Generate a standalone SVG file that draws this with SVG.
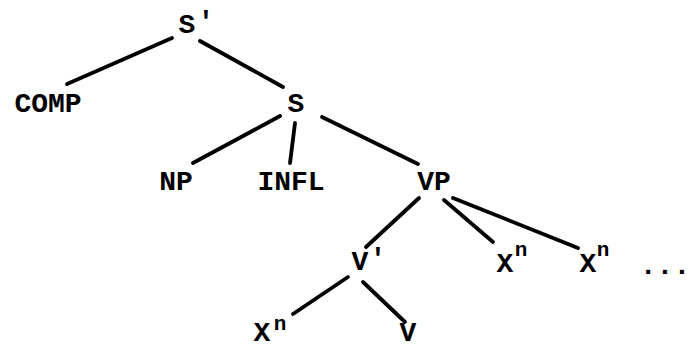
<svg xmlns="http://www.w3.org/2000/svg" width="697" height="349" viewBox="0 0 697 349">
<style>
.t{font-family:"Liberation Mono","DejaVu Sans Mono",monospace;font-size:28px;font-weight:bold;fill:#000;text-anchor:middle}
.s{font-size:21px}
.e{stroke:#000;stroke-width:3.8;stroke-linecap:round;fill:none}
</style>
<rect width="697" height="349" fill="#fff"/>
<g id="connectors" class="e">
<line x1="172" y1="38" x2="67" y2="84"/>
<line x1="200" y1="41" x2="283" y2="87"/>
<line x1="280" y1="116" x2="193" y2="163"/>
<line x1="295" y1="123" x2="290" y2="163"/>
<line x1="322" y1="117" x2="418" y2="164"/>
<line x1="419" y1="198" x2="366" y2="247"/>
<line x1="444" y1="200" x2="493" y2="242"/>
<line x1="453" y1="198" x2="578" y2="248"/>
<line x1="348" y1="277" x2="293" y2="314"/>
<line x1="363" y1="282" x2="405" y2="322"/>
</g>
<g id="n-Sbar"><text class="t" x="187" y="33">S</text><text class="t" x="206" y="30">'</text></g>
<g id="n-COMP"><text class="t" x="48" y="112">COMP</text></g>
<g id="n-S"><text class="t" x="296" y="112">S</text></g>
<g id="n-NP"><text class="t" x="176" y="190">NP</text></g>
<g id="n-INFL"><text class="t" x="291" y="190">INFL</text></g>
<g id="n-VP"><text class="t" x="434" y="190">VP</text></g>
<g id="n-Vbar"><text class="t" x="360" y="270">V</text><text class="t" x="378" y="267">'</text></g>
<g id="n-X1"><text class="t" x="505" y="272">X</text><text class="t s" x="521" y="256">n</text></g>
<g id="n-X2"><text class="t" x="588" y="272">X</text><text class="t s" x="603" y="256">n</text></g>
<g id="n-dots"><text class="t" x="665" y="274">...</text></g>
<g id="n-X3"><text class="t" x="262" y="341">X</text><text class="t s" x="280" y="330">n</text></g>
<g id="n-V"><text class="t" x="408" y="341">V</text></g>
</svg>
